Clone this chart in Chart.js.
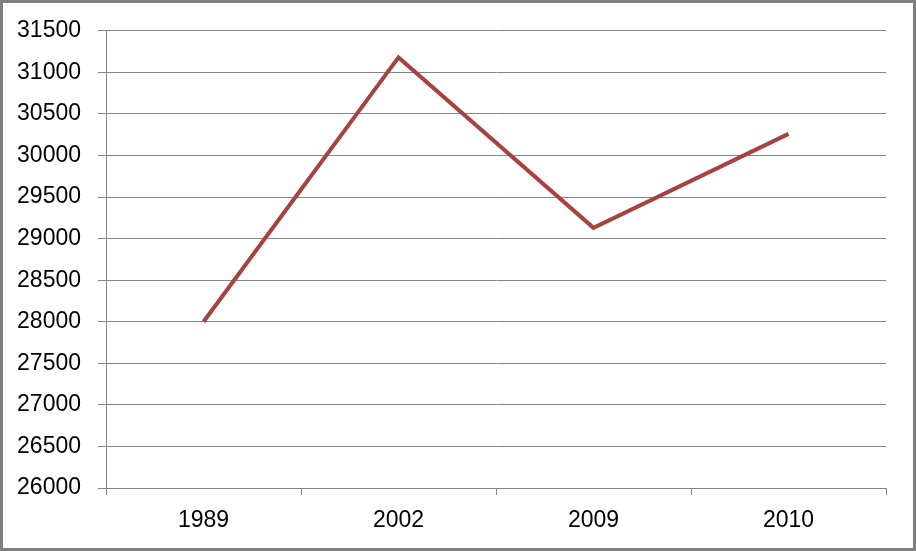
<!DOCTYPE html>
<html>
<head>
<meta charset="utf-8">
<script src="https://cdn.jsdelivr.net/npm/chart.js@4/dist/chart.umd.min.js"></script>
<style>
html,body{margin:0;padding:0;background:#fff;}
#wrap{width:916px;height:551px;position:relative;}
</style>
</head>
<body>
<div id="wrap"><canvas id="c" width="916" height="551"></canvas></div>
<script>
const categories = ["1989", "2002", "2009", "2010"];
const values = [28000, 31180, 29130, 30260];
const yMin = 26000;
const yMax = 31500;
const yStep = 500;

const borderPlugin = {
  id: 'outerBorder',
  afterDraw(chart) {
    const ctx = chart.ctx;
    ctx.save();
    ctx.strokeStyle = '#7f7f7f';
    ctx.lineWidth = 3;
    ctx.strokeRect(1.5, 1.5, chart.width - 3, chart.height - 3);
    ctx.restore();
  }
};

new Chart(document.getElementById('c'), {
  type: 'line',
  data: {
    labels: categories,
    datasets: [{
      data: values,
      borderColor: '#A64341',
      borderWidth: 4,
      pointRadius: 0,
      tension: 0,
      fill: false
    }]
  },
  options: {
    responsive: false,
    animation: false,
    layout: { padding: { left: 0, right: 30, top: 29, bottom: 0 } },
    plugins: { legend: { display: false }, tooltip: { enabled: false } },
    scales: {
      x: {
        offset: true,
        grid: { offset: true, drawOnChartArea: false, drawTicks: true, tickLength: 7, color: '#868686', lineWidth: 1 },
        border: { color: '#868686', width: 1 },
        ticks: { color: '#000', font: { family: 'Liberation Sans', size: 23 }, padding: 12, maxRotation: 0 },
        afterFit(s) { s.height = 63; }
      },
      y: {
        min: yMin,
        max: yMax,
        ticks: { stepSize: yStep, color: '#000', font: { family: 'Liberation Sans', size: 23 }, padding: 17,
          callback: (v) => String(v) },
        grid: { color: '#868686', lineWidth: 1, tickLength: 8, drawTicks: true },
        border: { color: '#868686', width: 1 },
        afterFit(s) { s.width = 106; }
      }
    }
  },
  plugins: [borderPlugin]
});
</script>
</body>
</html>
